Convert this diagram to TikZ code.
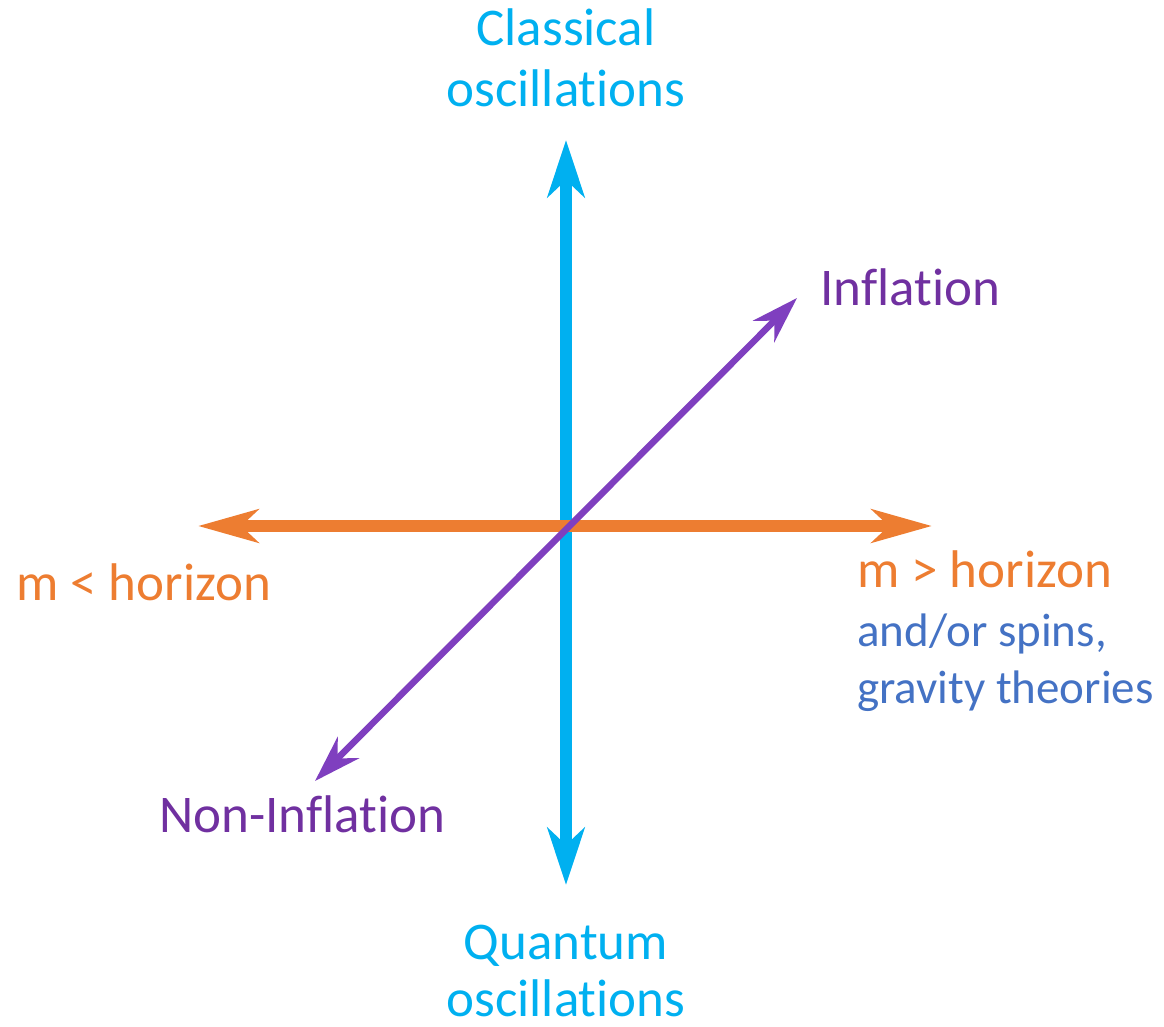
\documentclass[tikz,border=0pt]{standalone}
\usepackage{fontspec}
\setmainfont[Ligatures={NoCommon,NoRequired,NoContextual},RawFeature={-liga;-clig;-calt;-dlig}]{Carlito}
\usetikzlibrary{arrows.meta}
\newcommand{\tnolig}{t\kern0pt i}
\definecolor{cblue}{HTML}{00B0F0}
\definecolor{corange}{HTML}{ED7D31}
\definecolor{cpurple}{HTML}{7F3FBF}
\definecolor{tpurple}{HTML}{7030A0}
\definecolor{tblue}{HTML}{4472C4}
\tikzset{
  bigtxt/.style={inner sep=0pt, font=\fontsize{53}{60}\selectfont},
  smalltxt/.style={inner sep=0pt, font=\fontsize{47}{57}\selectfont},
  bluearrow/.style={draw=cblue, line width=12pt, {Stealth[length=57pt,width=37pt,inset=17pt]}-{Stealth[length=57pt,width=37pt,inset=17pt]}},
  orangearrow/.style={draw=corange, line width=12pt, {Stealth[length=60pt,width=33pt,inset=17pt]}-{Stealth[length=60pt,width=33pt,inset=17pt]}},
  purplearrow/.style={draw=cpurple, line width=6.5pt, {Stealth[length=47pt,width=30pt,inset=15pt]}-{Stealth[length=47pt,width=30pt,inset=15pt]}},
}
\begin{document}
\begin{tikzpicture}[x=1pt,y=-1pt]
\useasboundingbox (0,0) rectangle (1164,1026);
\coordinate (vtop) at (566,140);
\coordinate (vbot) at (566,885);
\coordinate (hleft) at (198,526);
\coordinate (hright) at (932,526);
\coordinate (dtop) at (797,298);
\coordinate (dbot) at (315,781);
\draw[bluearrow] (vbot) -- (vtop);
\draw[orangearrow] (hleft) -- (hright);
\draw[purplearrow] (dbot) -- (dtop);
\node[bigtxt, text=cblue, anchor=base] (cl1) at (566,45) {Classical};
\node[bigtxt, text=cblue, anchor=base] (cl2) at (566,106) {oscilla\tnolig ons};
\node[bigtxt, text=cblue, anchor=base] (qu1) at (566,959) {Quantum};
\node[bigtxt, text=cblue, anchor=base, text depth=0pt] (qu2) at (566,1016) {oscilla\tnolig ons};
\node[bigtxt, text=tpurple, anchor=base west] (inf) at (820,305) {Infla\tnolig on};
\node[bigtxt, text=tpurple, anchor=base west] (ninf) at (159,832) {Non-Infla\tnolig on};
\node[bigtxt, text=corange, anchor=base west] (mlt) at (16,600) {m < horizon};
\node[bigtxt, text=corange, anchor=base west] (mgt) at (857,587) {m > horizon};
\node[smalltxt, text=tblue, anchor=base west] (sp1) at (857,646) {and/or spins,};
\node[smalltxt, text=tblue, anchor=base west] (sp2) at (857,703) {gravity theories};
\end{tikzpicture}
\end{document}
